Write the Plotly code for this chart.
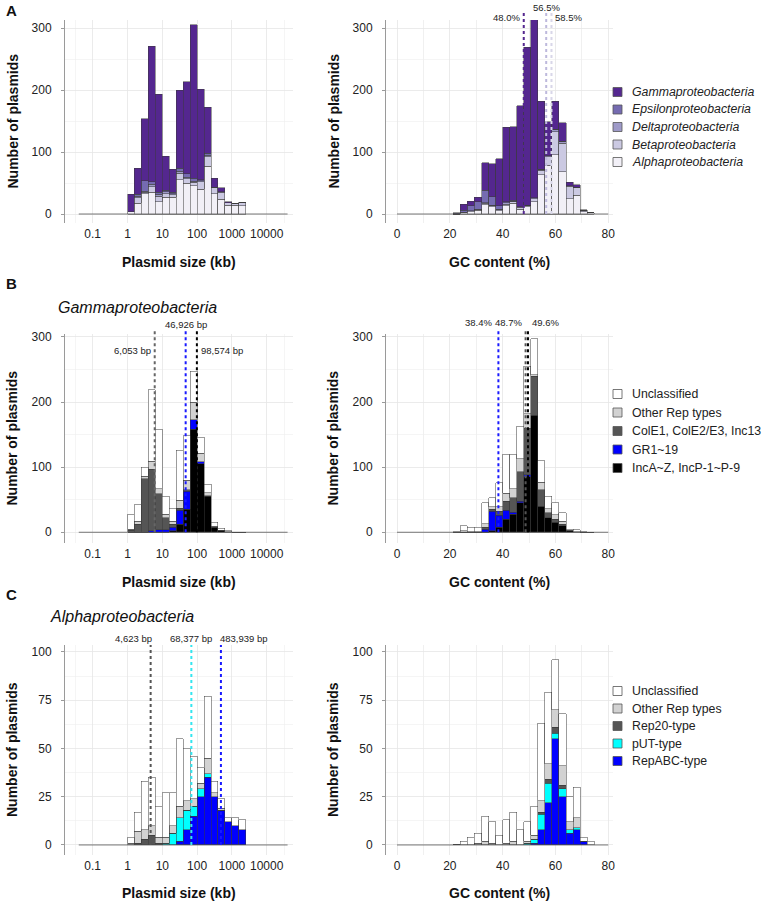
import math
import plotly.graph_objects as go

W, H = 763, 903

# ---------------- data ----------------
# Plasmid size histogram: bin left edges in log10(kb), bin width 0.2 (log10)
size_bin_left = [0.0, 0.2, 0.4, 0.6, 0.8, 1.0, 1.2, 1.4, 1.6, 1.8, 2.0, 2.2, 2.4, 2.6, 2.8, 3.0, 3.2]
size_bin_width = 0.2
size_bin_span = [-1.4, 4.6]
size_tick_vals = [-1, 0, 1, 2, 3, 4]
size_tick_text = ["0.1", "1", "10", "100", "1000", "10000"]
size_minor_vals = [-1.5, 4.5]

# GC content histogram: 30 bins over 0-80 %, only non-empty region listed
gc_bin_width = 80 / 30
gc_bin_left = [round(k * gc_bin_width, 3) for k in range(8, 28)]
gc_bin_span = [0, 80]
gc_tick_vals = [0, 20, 40, 60, 80]
gc_minor_vals = [10, 30, 50, 70]

# Panel A - plasmid size by class
size_alpha = [4, 17, 33, 35, 20, 27, 27, 55, 50, 46, 40, 77, 33, 24, 14, 14, 13]
size_beta = [0, 9, 2, 9, 9, 6, 4, 11, 7, 5, 12, 15, 9, 11, 4, 3, 6]
size_delta = [0, 3, 2, 4, 3, 3, 2, 3, 2, 2, 2, 3, 1, 1, 0, 0, 0]
size_eps = [0, 3, 17, 4, 3, 2, 2, 5, 6, 5, 1, 3, 0, 0, 0, 0, 0]
size_gamma = [28, 42, 100, 219, 158, 55, 37, 126, 148, 247, 146, 74, 15, 6, 2, 0, 0]

# Panel A - GC content by class
gc_alpha = [0, 2, 4, 6, 15, 12, 5, 13, 17, 8, 12, 20, 63, 79, 96, 68, 25, 30, 4, 2]
gc_beta = [0, 0, 1, 1, 2, 2, 2, 3, 3, 3, 2, 5, 8, 13, 37, 46, 20, 12, 2, 0]
gc_delta = [0, 1, 0, 1, 1, 0, 1, 2, 1, 1, 0, 1, 1, 2, 4, 3, 1, 1, 0, 0]
gc_eps = [1, 3, 8, 12, 20, 14, 5, 2, 1, 0, 0, 0, 0, 0, 0, 0, 0, 0, 0, 0]
gc_gamma = [1, 10, 8, 7, 45, 53, 76, 120, 119, 163, 255, 297, 110, 55, 45, 30, 5, 4, 1, 0]

# Panel B - Gammaproteobacteria size by Rep type
gs_inca = [0, 0, 0, 0, 0, 0, 2, 12, 35, 158, 105, 55, 8, 3, 1, 0, 0]
gs_gr = [0, 0, 0, 2, 4, 4, 6, 22, 28, 15, 3, 1, 0, 0, 0, 0, 0]
gs_cole = [3, 12, 82, 95, 55, 18, 4, 3, 2, 0, 0, 0, 0, 0, 0, 0, 0]
gs_other = [2, 5, 4, 12, 8, 6, 5, 12, 15, 27, 13, 5, 1, 0, 0, 0, 0]
gs_uncl = [23, 25, 14, 110, 91, 27, 20, 77, 68, 47, 25, 13, 6, 3, 1, 0, 0]

# Panel B - Gammaproteobacteria GC by Rep type
gg_inca = [0, 0, 0, 0, 0, 2, 8, 20, 28, 45, 85, 180, 40, 22, 15, 10, 2, 1, 0, 0]
gg_gr = [0, 0, 0, 0, 5, 30, 18, 14, 3, 3, 3, 0, 0, 0, 0, 0, 0, 0, 0, 0]
gg_cole = [0, 0, 0, 0, 3, 3, 6, 14, 22, 45, 72, 60, 25, 8, 5, 2, 0, 0, 0, 0]
gg_other = [0, 2, 1, 1, 5, 4, 7, 12, 14, 20, 22, 2, 12, 6, 7, 5, 1, 0, 0, 0]
gg_uncl = [1, 8, 7, 6, 32, 14, 37, 60, 52, 50, 73, 55, 33, 19, 18, 13, 2, 3, 1, 0]

# Panel C - Alphaproteobacteria size by Rep type
as_repabc = [0, 0, 0, 0, 0, 0, 0, 2, 8, 15, 25, 35, 25, 18, 12, 10, 8]
as_put = [0, 0, 0, 0, 0, 1, 6, 12, 10, 5, 4, 2, 0, 0, 0, 0, 0]
as_rep20 = [0, 1, 3, 5, 1, 0, 0, 0, 0, 0, 0, 0, 0, 0, 0, 0, 0]
as_other = [1, 6, 5, 5, 3, 3, 4, 6, 5, 4, 3, 8, 2, 1, 0, 0, 0]
as_uncl = [3, 10, 25, 25, 16, 23, 17, 35, 27, 22, 8, 32, 6, 5, 2, 4, 5]

# Panel C - Alphaproteobacteria GC by Rep type
ag_repabc = [0, 0, 0, 0, 0, 0, 0, 0, 0, 0, 0, 1, 8, 22, 55, 25, 6, 8, 2, 0]
ag_put = [0, 0, 0, 0, 0, 0, 0, 0, 0, 0, 1, 2, 8, 10, 3, 4, 2, 1, 0, 0]
ag_rep20 = [0, 0, 0, 0, 0, 0, 0, 0, 0, 0, 0, 0, 1, 2, 3, 2, 0, 0, 0, 0]
ag_other = [0, 0, 0, 1, 2, 1, 0, 1, 2, 0, 1, 2, 6, 8, 9, 10, 4, 5, 0, 0]
ag_uncl = [0, 2, 4, 5, 13, 11, 5, 12, 15, 8, 10, 15, 40, 37, 26, 27, 13, 16, 2, 2]

# medians (annotation lines)
a_gc_median_labels = ["48.0%", "56.5%", "58.5%"]
a_gc_median_vals = [48.0, 56.5, 58.5]
b_size_median_bp = [6053, 46926, 98574]
b_size_median_labels = ["6,053 bp", "46,926 bp", "98,574 bp"]
b_gc_median_vals = [38.4, 48.7, 49.6]
b_gc_median_labels = ["38.4%", "48.7%", "49.6%"]
c_size_median_bp = [4623, 68377, 483939]
c_size_median_labels = ["4,623 bp", "68,377 bp", "483,939 bp"]

taxa_names = ["Gammaproteobacteria", "Epsilonproteobacteria", "Deltaproteobacteria",
              "Betaproteobacteria", "Alphaproteobacteria"]
gamma_rep_names = ["Unclassified", "Other Rep types", "ColE1, ColE2/E3, Inc13", "GR1~19", "IncA~Z, IncP-1~P-9"]
alpha_rep_names = ["Unclassified", "Other Rep types", "Rep20-type", "pUT-type", "RepABC-type"]

# ---------------- styles ----------------
FONT = "Liberation Sans"
taxa_colors = ["#54278f", "#756bb1", "#9e9ac8", "#cbc9e2", "#f2f0f7"]
gamma_rep_colors = ["#ffffff", "#d2d2d2", "#555555", "#0000ff", "#000000"]
alpha_rep_colors = ["#ffffff", "#d2d2d2", "#555555", "#00ffff", "#0000ff"]
GRID = "#e6e6e6"
GRID_MINOR = "#eeeeee"
TXT = "#222222"

# panel geometry (pixels)
LEFT_X = (65, 293)
RIGHT_X = (386, 613)
ROWS = {
    "A": dict(top=20, bottom=223, yrange=[-14.5, 313], ticks=[0, 100, 200, 300], minor=[50, 150, 250]),
    "B": dict(top=334, bottom=543, yrange=[-16.5, 304.5], ticks=[0, 100, 200, 300], minor=[50, 150, 250]),
    "C": dict(top=645, bottom=855, yrange=[-5.2, 103.6], ticks=[0, 25, 50, 75, 100], minor=[12.5, 37.5, 62.5, 87.5]),
}
XTITLE_Y = {"A": 262, "B": 582, "C": 893}
SIZE_RANGE = [-1.796, 4.756]
GC_RANGE = [-4.17, 81.8]


def px(x):
    return x / W


def py(y):
    return 1 - y / H


def ydom(row):
    r = ROWS[row]
    return [py(r["bottom"]), py(r["top"])]


def yval_to_paper(row, v):
    d0, d1 = ydom(row)
    r0, r1 = ROWS[row]["yrange"]
    return d0 + (v - r0) / (r1 - r0) * (d1 - d0)


fig = go.Figure()

panels = [
    ("A", "size", 1), ("A", "gc", 2),
    ("B", "size", 3), ("B", "gc", 4),
    ("C", "size", 5), ("C", "gc", 6),
]


def axid(n, letter):
    return letter if n == 1 else f"{letter}{n}"


def add_baseline(n, kind):
    span = size_bin_span if kind == "size" else gc_bin_span
    fig.add_trace(go.Scatter(x=span, y=[0, 0], mode="lines",
                             line=dict(color="#555555", width=0.8),
                             xaxis=axid(n, "x"), yaxis=axid(n, "y"),
                             showlegend=False, hoverinfo="skip"))


def add_stack(n, kind, series_bottom_to_top, colors_bottom_to_top):
    if kind == "size":
        centers = [b + size_bin_width / 2 for b in size_bin_left]
        width = size_bin_width
    else:
        centers = [b + gc_bin_width / 2 for b in gc_bin_left]
        width = gc_bin_width
    for vals, col in zip(series_bottom_to_top, colors_bottom_to_top):
        fig.add_trace(go.Bar(x=centers, y=vals, width=width,
                             marker=dict(color=col, line=dict(color="#3a3a3a", width=0.5)),
                             xaxis=axid(n, "x"), yaxis=axid(n, "y"),
                             showlegend=False, hoverinfo="skip"))


for row, kind, n in panels:
    add_baseline(n, kind)

rev_taxa_colors = taxa_colors[::-1]
add_stack(1, "size", [size_alpha, size_beta, size_delta, size_eps, size_gamma], rev_taxa_colors)
add_stack(2, "gc", [gc_alpha, gc_beta, gc_delta, gc_eps, gc_gamma], rev_taxa_colors)
add_stack(3, "size", [gs_inca, gs_gr, gs_cole, gs_other, gs_uncl], gamma_rep_colors[::-1])
add_stack(4, "gc", [gg_inca, gg_gr, gg_cole, gg_other, gg_uncl], gamma_rep_colors[::-1])
add_stack(5, "size", [as_repabc, as_put, as_rep20, as_other, as_uncl], alpha_rep_colors[::-1])
add_stack(6, "gc", [ag_repabc, ag_put, ag_rep20, ag_other, ag_uncl], alpha_rep_colors[::-1])

layout = dict(
    width=W, height=H,
    margin=dict(l=0, r=0, t=0, b=0, autoexpand=False),
    paper_bgcolor="white", plot_bgcolor="white",
    barmode="stack", bargap=0,
    font=dict(family=FONT, size=12, color=TXT),
    showlegend=False,
)

for row, kind, n in panels:
    xd = LEFT_X if kind == "size" else RIGHT_X
    xa = dict(domain=[px(xd[0]), px(xd[1])], anchor=axid(n, "y"),
              range=SIZE_RANGE if kind == "size" else GC_RANGE,
              showgrid=True, gridcolor=GRID, gridwidth=0.8, zeroline=False,
              showline=False, ticks="", tickfont=dict(size=12, color=TXT, family=FONT),
              ticklabelstandoff=2, fixedrange=True, tickmode="array", automargin=False)
    if kind == "size":
        xa.update(tickvals=size_tick_vals, ticktext=size_tick_text,
                  minor=dict(tickmode="array", tickvals=size_minor_vals, showgrid=True,
                             gridcolor=GRID_MINOR, gridwidth=0.6))
    else:
        xa.update(tickvals=gc_tick_vals, ticktext=[str(v) for v in gc_tick_vals],
                  minor=dict(tickmode="array", tickvals=gc_minor_vals, showgrid=True,
                             gridcolor=GRID, gridwidth=0.6))
    r = ROWS[row]
    ya = dict(domain=ydom(row), anchor=axid(n, "x"), range=r["yrange"],
              tickmode="array", tickvals=r["ticks"], ticktext=[str(v) for v in r["ticks"]],
              showgrid=True, gridcolor=GRID, gridwidth=0.8, zeroline=False,
              showline=True, linecolor="#9a9a9a", linewidth=1,
              ticks="outside", ticklen=3, tickcolor="#9a9a9a", tickwidth=1,
              ticklabelstandoff=7, tickfont=dict(size=12, color=TXT, family=FONT),
              minor=dict(tickmode="array", tickvals=r["minor"], showgrid=True,
                         gridcolor=GRID_MINOR, gridwidth=0.6, ticks=""),
              fixedrange=True, automargin=False)
    layout["xaxis" if n == 1 else f"xaxis{n}"] = xa
    layout["yaxis" if n == 1 else f"yaxis{n}"] = ya

fig.update_layout(**layout)

shapes = []
annotations = []


def median_line(n, row, xval, label, color, anchor, label_y, top_y, shift=None):
    shapes.append(dict(type="line", xref=axid(n, "x"), yref="paper",
                       x0=xval, x1=xval, y0=yval_to_paper(row, 0), y1=py(top_y),
                       line=dict(color=color, width=2, dash="dot")))
    if shift is None:
        shift = {"right": -2, "left": 2, "center": 0}[anchor]
    annotations.append(dict(xref=axid(n, "x"), yref="paper", x=xval, y=py(label_y),
                            text=label, showarrow=False, xanchor=anchor, yanchor="middle",
                            xshift=shift, font=dict(size=9.5, color=TXT, family=FONT)))


# Panel A right medians
a_cols = ["#54278f", "#bdb9dc", "#d8d6e8"]
a_anch = ["right", "center", "left"]
a_laby = [17, 7, 17]
a_top = [11, 12, 11]
for v, lab, c, an, ly, tp in zip(a_gc_median_vals, a_gc_median_labels, a_cols, a_anch, a_laby, a_top):
    median_line(2, "A", v, lab, c, an, ly, tp)

# Panel B left
b_cols = ["#666666", "#1a1aff", "#000000"]
b_anch = ["right", "center", "left"]
b_laby = [350, 324, 350]
for v, lab, c, an, ly in zip(b_size_median_bp, b_size_median_labels, b_cols, b_anch, b_laby):
    median_line(3, "B", math.log10(v / 1000), lab, c, an, ly, 331)

# Panel B right
bg_cols = ["#1a1aff", "#555555", "#000000"]
bg_anch = ["right", "right", "left"]
bg_shift = [-4, -2, 2]
for v, lab, c, an, sh in zip(b_gc_median_vals, b_gc_median_labels, bg_cols, bg_anch, bg_shift):
    median_line(4, "B", v, lab, c, an, 323, 331, sh)

# Panel C left
c_cols = ["#555555", "#33e6f0", "#1a1aff"]
c_anch = ["right", "center", "left"]
c_shift = [3, 0, -3]
for v, lab, c, an, sh in zip(c_size_median_bp, c_size_median_labels, c_cols, c_anch, c_shift):
    median_line(5, "C", math.log10(v / 1000), lab, c, an, 638, 645, sh)


def legend(names, colors, y0, step, italic=False):
    for i, (nm, col) in enumerate(zip(names, colors)):
        yc = y0 + i * step
        shapes.append(dict(type="rect", xref="paper", yref="paper",
                           x0=px(613), x1=px(622), y0=py(yc + 4.5), y1=py(yc - 4.5),
                           fillcolor=col, line=dict(color="#555555", width=0.8)))
        txt = f"<i>{nm}</i>" if italic else nm
        annotations.append(dict(xref="paper", yref="paper", x=px(630), y=py(yc),
                                text=txt, showarrow=False, xanchor="left", yanchor="middle",
                                font=dict(size=12.3, color=TXT, family=FONT)))


legend(taxa_names, taxa_colors, 92, 17.5, italic=True)
legend(gamma_rep_names, gamma_rep_colors, 394, 18.5)
legend(alpha_rep_names, alpha_rep_colors, 691, 17.5)

# axis titles
for row in ROWS:
    r = ROWS[row]
    yc = (r["top"] + r["bottom"]) / 2
    for xc in (12, 333):
        annotations.append(dict(xref="paper", yref="paper", x=px(xc), y=py(yc),
                                text="<b>Number of plasmids</b>", textangle=-90, showarrow=False,
                                xanchor="center", yanchor="middle",
                                font=dict(size=14, color="#111111", family=FONT)))
    ty = XTITLE_Y[row]
    annotations.append(dict(xref="paper", yref="paper", x=px((LEFT_X[0] + LEFT_X[1]) / 2), y=py(ty),
                            text="<b>Plasmid size (kb)</b>", showarrow=False,
                            xanchor="center", yanchor="middle",
                            font=dict(size=14, color="#111111", family=FONT)))
    annotations.append(dict(xref="paper", yref="paper", x=px((RIGHT_X[0] + RIGHT_X[1]) / 2), y=py(ty),
                            text="<b>GC content (%)</b>", showarrow=False,
                            xanchor="center", yanchor="middle",
                            font=dict(size=14, color="#111111", family=FONT)))

# panel letters and subtitles
for letter, yc in (("A", 10), ("B", 283), ("C", 594)):
    annotations.append(dict(xref="paper", yref="paper", x=px(4), y=py(yc), text=f"<b>{letter}</b>",
                            showarrow=False, xanchor="left", yanchor="middle",
                            font=dict(size=15, color="#111111", family=FONT)))
annotations.append(dict(xref="paper", yref="paper", x=px(56), y=py(307), text="<i>Gammaproteobacteria</i>",
                        showarrow=False, xanchor="left", yanchor="middle",
                        font=dict(size=16, color="#111111", family=FONT)))
annotations.append(dict(xref="paper", yref="paper", x=px(48), y=py(616), text="<i>Alphaproteobacteria</i>",
                        showarrow=False, xanchor="left", yanchor="middle",
                        font=dict(size=16, color="#111111", family=FONT)))

fig.update_layout(shapes=shapes, annotations=annotations)
fig.write_html(
    "out.html",
    config={"displayModeBar": False, "staticPlot": True},
    post_script="document.body.style.margin='0px';document.body.style.padding='0px';"
                "document.documentElement.style.overflow='hidden';",
)
